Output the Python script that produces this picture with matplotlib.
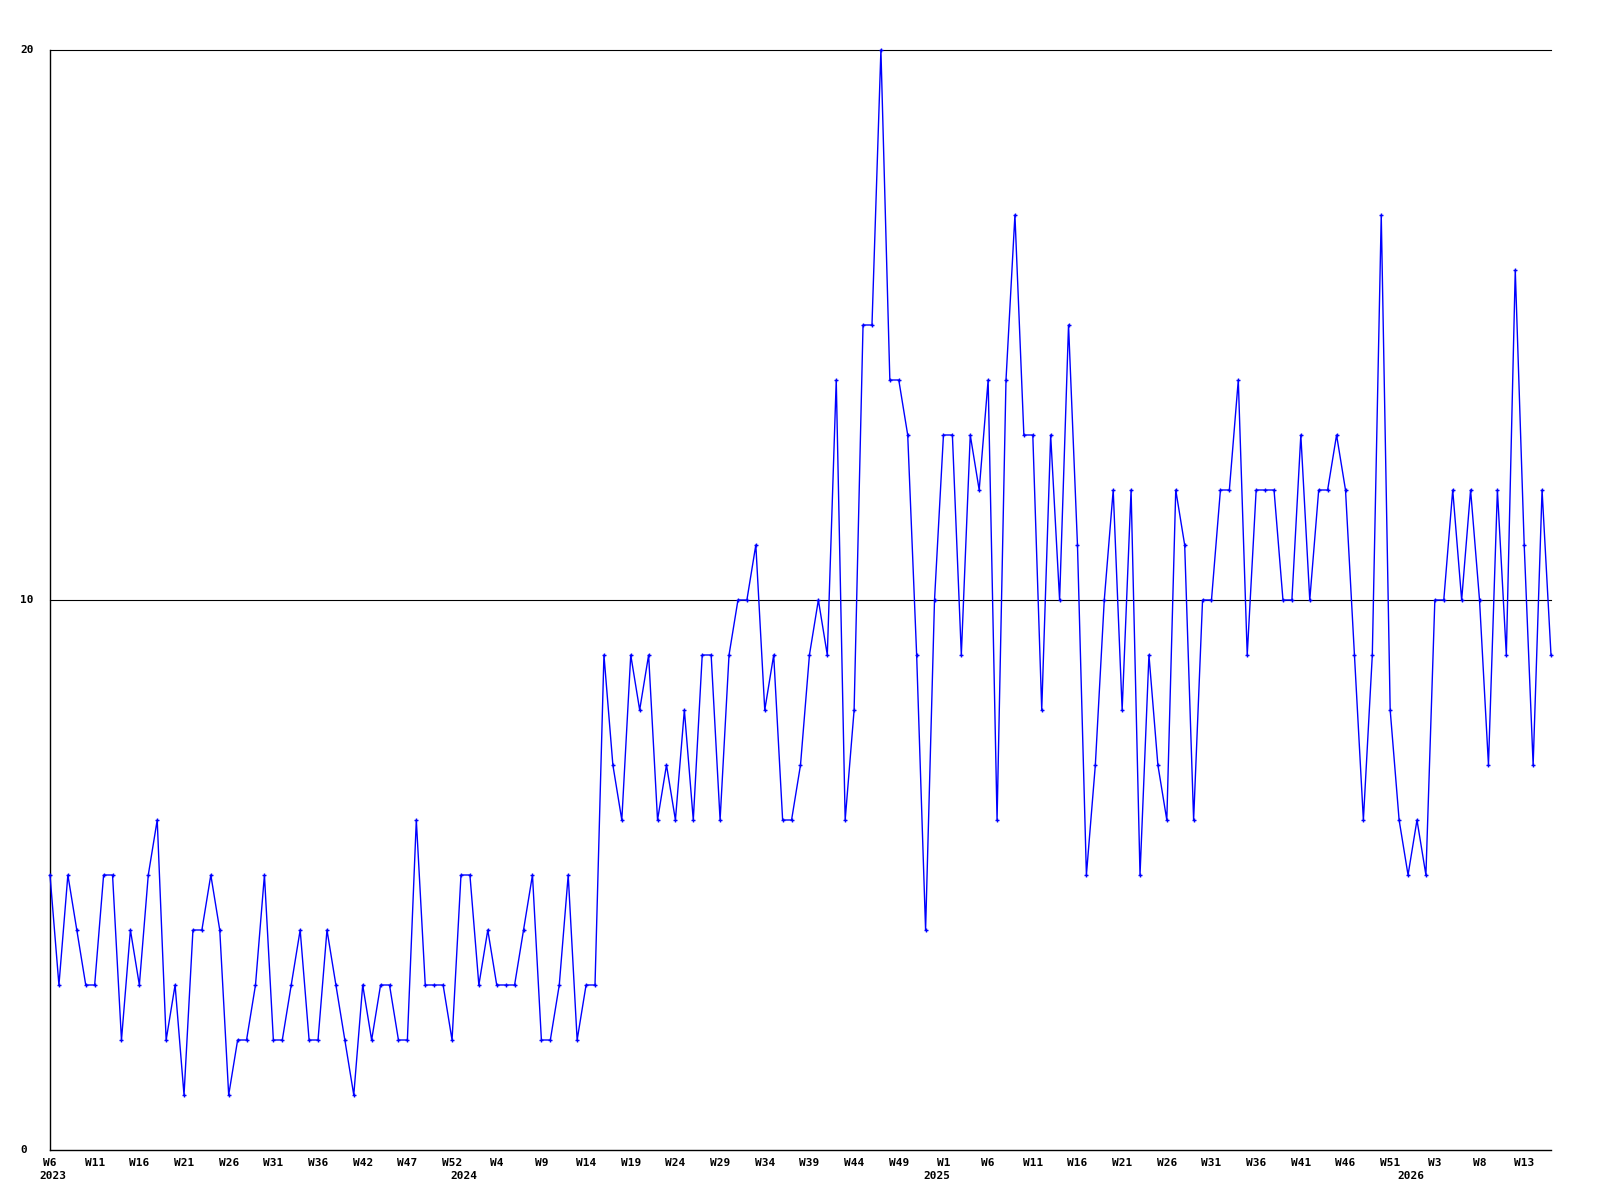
"""
Weekly count line chart, 2023 W6 to 2026 W16.
Plain raster-style look: blue line with small cross markers,
black reference lines at 10 and 20, bold monospace labels.
"""

import matplotlib
matplotlib.use("Agg")
import matplotlib.pyplot as plt
from matplotlib.transforms import blended_transform_factory

OUT_PNG = "out.png"

# weekly values, one per data point
VALUES = [
    5, 3, 5, 4, 3, 3, 5, 5, 2, 4, 3, 5, 6, 2, 3, 1, 4, 4, 5, 4,
    1, 2, 2, 3, 5, 2, 2, 3, 4, 2, 2, 4, 3, 2, 1, 3, 2, 3, 3, 2,
    2, 6, 3, 3, 3, 2, 5, 5, 3, 4, 3, 3, 3, 4, 5, 2, 2, 3, 5, 2,
    3, 3, 9, 7, 6, 9, 8, 9, 6, 7, 6, 8, 6, 9, 9, 6, 9, 10, 10, 11,
    8, 9, 6, 6, 7, 9, 10, 9, 14, 6, 8, 15, 15, 20, 14, 14, 13, 9, 4, 10,
    13, 13, 9, 13, 12, 14, 6, 14, 17, 13, 13, 8, 13, 10, 15, 11, 5, 7, 10, 12,
    8, 12, 5, 9, 7, 6, 12, 11, 6, 10, 10, 12, 12, 14, 9, 12, 12, 12, 10, 10,
    13, 10, 12, 12, 13, 12, 9, 6, 9, 17, 8, 6, 5, 6, 5, 10, 10, 12, 10, 12,
    10, 7, 12, 9, 16, 11, 7, 12, 9,
]

# a week label on every fifth point
WEEK_LABELS = [
    "W6", "W11", "W16", "W21", "W26", "W31", "W36", "W42", "W47", "W52",
    "W4", "W9", "W14", "W19", "W24", "W29", "W34", "W39", "W44", "W49",
    "W1", "W6", "W11", "W16", "W21", "W26", "W31", "W36", "W41", "W46",
    "W51", "W3", "W8", "W13",
]
LABEL_STEP = 5

# first point of each year
YEARS = ["2023", "2024", "2025", "2026"]
YEAR_START = [0, 46, 99, 152]

Y_TICKS = [0, 10, 20]

LINE_COLOUR = "#0000ff"
FONT = ["DejaVu Sans Mono"]


def build_figure():
    plt.rcParams.update({
        "font.family": FONT,
        "font.weight": "bold",
        "font.size": 8,
    })

    fig = plt.figure(figsize=(16, 12), dpi=100, facecolor="white")
    ax = fig.add_axes([50 / 1600, 50 / 1200, 1501 / 1600, 1100 / 1200])

    x = list(range(len(VALUES)))
    ax.plot(x, VALUES, color=LINE_COLOUR, lw=1.0, marker="+",
            ms=3, mew=1.0, zorder=3, clip_on=False)

    ax.set_xlim(0, len(VALUES) - 1)
    ax.set_ylim(0, 20)

    for yv in Y_TICKS[1:]:
        ax.axhline(yv, color="black", lw=0.8, zorder=1, clip_on=False)

    for side in ("top", "right"):
        ax.spines[side].set_visible(False)
    for side in ("left", "bottom"):
        ax.spines[side].set_color("black")
        ax.spines[side].set_linewidth(1.0)

    ticks = [i * LABEL_STEP for i in range(len(WEEK_LABELS))]
    ax.set_xticks(ticks, WEEK_LABELS, fontsize=8, fontweight="bold")
    ax.tick_params(axis="x", length=0, pad=6)

    ax.set_yticks([])
    ytrans = blended_transform_factory(fig.transFigure, ax.transData)
    for yv in Y_TICKS:
        ax.text(20 / 1600, yv, str(yv), transform=ytrans,
                ha="left", va="center", fontsize=8, fontweight="bold")

    xtrans = blended_transform_factory(ax.transData, ax.transAxes)
    for name, start in zip(YEARS, YEAR_START):
        ax.text(start - 1.2, -26 / 1100, name, transform=xtrans,
                ha="left", va="center", fontsize=8, fontweight="bold")

    fig.savefig(OUT_PNG, dpi=100, facecolor="white")
    plt.close(fig)


if __name__ == "__main__":
    build_figure()
